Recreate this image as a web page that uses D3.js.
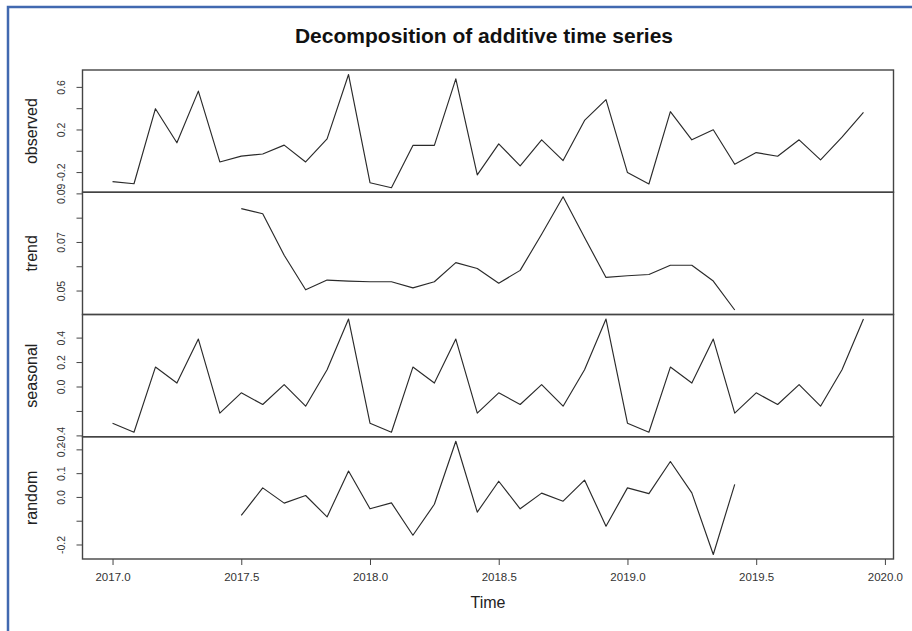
<!DOCTYPE html>
<html lang="en">
<head>
  <meta charset="UTF-8">
  <title>Decomposition of additive time series</title>
  <script src="https://d3js.org/d3.v7.min.js"></script>
  <style>
    body {
      margin: 0;
      background-color: #ffffff;
      font-family: "Liberation Sans", Arial, sans-serif;
    }
    svg { display: block; }
    .tick text { fill: #333; }
  </style>
</head>
<body>
  <svg id="chart"></svg>
  <script>
    // Monthly series, Jan 2017 .. Dec 2019 (frequency 12)
    const startYear = 2017;
    const frequency = 12;

    const observed = [-0.29, -0.31, 0.395, 0.075, 0.56, -0.105, -0.05, -0.03, 0.053, -0.105, 0.112, 0.716,
                      -0.30, -0.347, 0.05, 0.05, 0.675, -0.227, 0.065, -0.142, 0.103, -0.092, 0.285, 0.48,
                      -0.205, -0.312, 0.367, 0.103, 0.197, -0.127, -0.017, -0.051, 0.103, -0.086, 0.128, 0.36];

    const trend = [null, null, null, null, null, null,
                   0.0837, 0.0816, 0.0645, 0.0503, 0.0543, 0.0539,
                   0.0536, 0.0536, 0.0511, 0.0536, 0.0615, 0.0591, 0.053, 0.0583, 0.0732, 0.0886, 0.0718, 0.0554,
                   0.0561, 0.0566, 0.0604, 0.0604, 0.0539, 0.042,
                   null, null, null, null, null, null];

    const seasonal = [-0.30, -0.374, 0.159, 0.028, 0.388, -0.218, -0.052, -0.147, 0.016, -0.161, 0.137, 0.552,
                      -0.30, -0.374, 0.159, 0.028, 0.388, -0.218, -0.052, -0.147, 0.016, -0.161, 0.137, 0.552,
                      -0.30, -0.374, 0.159, 0.028, 0.388, -0.218, -0.052, -0.147, 0.016, -0.161, 0.137, 0.552];

    const random = [null, null, null, null, null, null,
                    -0.078, 0.038, -0.026, 0.006, -0.084, 0.109,
                    -0.05, -0.025, -0.161, -0.031, 0.234, -0.064, 0.066, -0.05, 0.016, -0.018, 0.071, -0.123,
                    0.038, 0.014, 0.149, 0.017, -0.242, 0.053,
                    null, null, null, null, null, null];

    // Axis ticks and the labels R managed to print (others skipped for overlap)
    const obsTicks = [-0.2, 0, 0.2, 0.4, 0.6];
    const obsTickLabels = ["-0.2", "", "0.2", "", "0.6"];
    const trendTicks = [0.05, 0.06, 0.07, 0.08, 0.09];
    const trendTickLabels = ["0.05", "", "0.07", "", "0.09"];
    const seasTicks = [-0.4, -0.2, 0, 0.2, 0.4];
    const seasTickLabels = ["-0.4", "", "0.0", "0.2", "0.4"];
    const randTicks = [-0.2, -0.1, 0, 0.1, 0.2];
    const randTickLabels = ["-0.2", "", "0.0", "0.1", "0.2"];
    const timeTicks = [2017, 2017.5, 2018, 2018.5, 2019, 2019.5, 2020];

    const panelNames = ["observed", "trend", "seasonal", "random"];

    const time = observed.map((d, i) => startYear + i / frequency);

    const panels = [
      { name: panelNames[0], values: observed, ticks: obsTicks, labels: obsTickLabels },
      { name: panelNames[1], values: trend, ticks: trendTicks, labels: trendTickLabels },
      { name: panelNames[2], values: seasonal, ticks: seasTicks, labels: seasTickLabels },
      { name: panelNames[3], values: random, ticks: randTicks, labels: randTickLabels }
    ];

    // Layout
    const width = 912, height = 631;
    const plotLeft = 82.5, plotRight = 893.5, plotTop = 70, plotBottom = 559;
    const panelH = (plotBottom - plotTop) / panels.length;

    const svg = d3.select("#chart")
      .attr("width", width)
      .attr("height", height);

    svg.append("rect").attr("width", width).attr("height", height).attr("fill", "#fff");

    // Blue window frame around the screenshot
    svg.append("path")
      .attr("d", `M8,${height} L8,7 L${width},7`)
      .attr("fill", "none")
      .attr("stroke", "#4169b0")
      .attr("stroke-width", 2.5);

    // Title
    svg.append("text")
      .attr("x", 484)
      .attr("y", 43)
      .attr("text-anchor", "middle")
      .style("font-size", "21px")
      .style("font-weight", "bold")
      .attr("fill", "#111")
      .text("Decomposition of additive time series");

    // R pads the range by 4% on each side
    function padded(ext) {
      const pad = (ext[1] - ext[0]) * 0.04;
      return [ext[0] - pad, ext[1] + pad];
    }

    const x = d3.scaleLinear()
      .domain(padded(d3.extent(time)))
      .range([plotLeft, plotRight]);

    panels.forEach((p, k) => {
      const y0 = plotTop + k * panelH;
      const y1 = y0 + panelH;

      const y = d3.scaleLinear()
        .domain(padded(d3.extent(p.values.filter(v => v != null))))
        .range([y1, y0]);

      const g = svg.append("g");

      // Series line
      const line = d3.line()
        .defined(d => d[1] != null)
        .x(d => x(d[0]))
        .y(d => y(d[1]));

      g.append("path")
        .datum(time.map((t, i) => [t, p.values[i]]))
        .attr("fill", "none")
        .attr("stroke", "#2a2a2a")
        .attr("stroke-width", 1.15)
        .attr("stroke-linejoin", "round")
        .attr("d", line);

      // Y axis with rotated labels
      const axis = g.append("g")
        .attr("transform", `translate(${plotLeft},0)`)
        .call(d3.axisLeft(y)
          .tickValues(p.ticks)
          .tickSizeInner(6)
          .tickSizeOuter(0)
          .tickFormat((d, i) => p.labels[i]));

      axis.select(".domain").remove();
      axis.selectAll(".tick line").attr("stroke", "#444");
      axis.selectAll(".tick text")
        .attr("x", 0)
        .attr("y", -17.5)
        .attr("dy", 0)
        .attr("transform", "rotate(-90)")
        .attr("text-anchor", "middle")
        .style("font-size", "10.5px")
        .style("font-family", "'Liberation Sans', Arial, sans-serif");

      // Panel name
      svg.append("text")
        .attr("transform", `translate(36.5,${(y0 + y1) / 2}) rotate(-90)`)
        .attr("text-anchor", "middle")
        .style("font-size", "16px")
        .attr("fill", "#222")
        .text(p.name);

      // Panel box
      g.append("rect")
        .attr("x", plotLeft)
        .attr("y", y0)
        .attr("width", plotRight - plotLeft)
        .attr("height", panelH)
        .attr("fill", "none")
        .attr("stroke", "#444")
        .attr("stroke-width", 1.4);
    });

    // Time axis
    const xAxis = svg.append("g")
      .attr("transform", `translate(0,${plotBottom})`)
      .call(d3.axisBottom(x)
        .tickValues(timeTicks)
        .tickSizeInner(6)
        .tickSizeOuter(0)
        .tickFormat(d3.format(".1f")));

    xAxis.select(".domain").remove();
    xAxis.selectAll(".tick line").attr("stroke", "#444");
    xAxis.selectAll(".tick text")
      .attr("y", 14)
      .style("font-size", "11.5px")
      .style("font-family", "'Liberation Sans', Arial, sans-serif");

    svg.append("text")
      .attr("x", (plotLeft + plotRight) / 2)
      .attr("y", 608)
      .attr("text-anchor", "middle")
      .style("font-size", "16px")
      .attr("fill", "#222")
      .text("Time");
  </script>
</body>
</html>
